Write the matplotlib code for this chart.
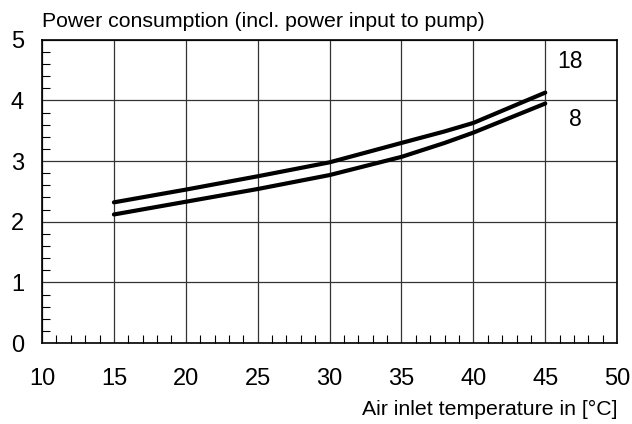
import matplotlib.pyplot as plt
from matplotlib.ticker import MultipleLocator

plt.rcParams['font.family'] = ['Liberation Sans', 'DejaVu Sans']

# Air inlet temperature [°C]
temp = [15, 20, 25, 30, 35, 38, 40, 42.5, 45]
# power consumption curves
power_18 = [2.32, 2.53, 2.75, 2.98, 3.30, 3.49, 3.63, 3.88, 4.13]
power_8 = [2.12, 2.33, 2.54, 2.77, 3.07, 3.30, 3.47, 3.71, 3.95]
curve_labels = ['18', '8']

fig = plt.figure(figsize=(6.32, 4.24), dpi=100)
ax = fig.add_axes([0.0665, 0.191, 0.91, 0.715])

ax.plot(temp, power_18, color='black', lw=3, solid_capstyle='round', solid_joinstyle='round')
ax.plot(temp, power_8, color='black', lw=3, solid_capstyle='round', solid_joinstyle='round')

ax.text(46.7, 4.64, curve_labels[0], fontsize=16.5, ha='center', va='center')
ax.text(47.1, 3.68, curve_labels[1], fontsize=16.5, ha='center', va='center')

ax.set_xlim(10, 50)
ax.set_ylim(0, 5)
ax.xaxis.set_major_locator(MultipleLocator(5))
ax.yaxis.set_major_locator(MultipleLocator(1))
ax.xaxis.set_minor_locator(MultipleLocator(1))
ax.yaxis.set_minor_locator(MultipleLocator(0.2))
ax.grid(True, which='major', color='#333333', lw=0.9)

ax.tick_params(which='major', length=0, labelsize=17)
ax.tick_params(axis='x', which='major', pad=18)
ax.tick_params(axis='y', which='major', pad=13)
ax.tick_params(which='minor', direction='in', length=5.5, width=0.8)
for s in ax.spines.values():
    s.set_linewidth(1.2)

ax.text(0.0, 1.043, 'Power consumption (incl. power input to pump)',
        transform=ax.transAxes, fontsize=15.3, ha='left', va='baseline')
ax.set_xlabel('Air inlet temperature in [°C]', fontsize=15.3, loc='right', labelpad=7)

fig.savefig('out.png', dpi=100)
